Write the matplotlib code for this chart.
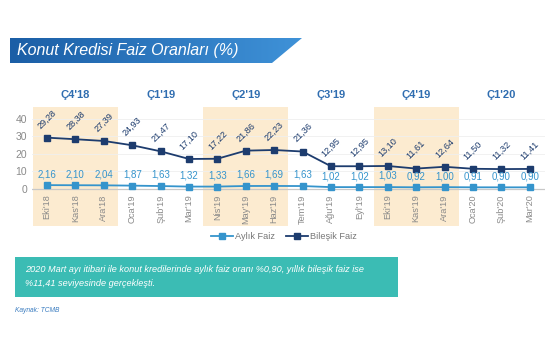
import matplotlib
matplotlib.use("Agg")
import matplotlib.pyplot as plt
import numpy as np
from matplotlib.colors import LinearSegmentedColormap
from matplotlib.patches import Polygon, Rectangle

plt.rcParams["font.family"] = ["Liberation Sans", "DejaVu Sans"]

# data
months = ["Eki'18", "Kas'18", "Ara'18", "Oca'19", "Şub'19", "Mar'19",
          "Nis'19", "May'19", "Haz'19", "Tem'19", "Ağu'19", "Eyl'19",
          "Eki'19", "Kas'19", "Ara'19", "Oca'20", "Şub'20", "Mar'20"]
aylik = [2.16, 2.10, 2.04, 1.87, 1.63, 1.32, 1.33, 1.66, 1.69, 1.63,
         1.02, 1.02, 1.03, 0.92, 1.00, 0.91, 0.90, 0.90]
bilesik = [29.28, 28.38, 27.39, 24.93, 21.47, 17.10, 17.22, 21.86, 22.23, 21.36,
           12.95, 12.95, 13.10, 11.61, 12.64, 11.50, 11.32, 11.41]
quarters = ["Ç4'18", "Ç1'19", "Ç2'19", "Ç3'19", "Ç4'19", "Ç1'20"]
shaded_quarters = [0, 2, 4]

c_aylik = "#3594cc"
c_bilesik = "#1d3c6e"
c_band = "#fcebd0"
c_tick = "#8a8a8a"

W, H = 555, 355
fig = plt.figure(figsize=(W / 100, H / 100), dpi=100)

# background layer in pixel coordinates for banner / note box
bg = fig.add_axes([0, 0, 1, 1], zorder=-1)
bg.set_xlim(0, W)
bg.set_ylim(H, 0)
bg.axis("off")

banner = Polygon([[10, 38], [302, 38], [272, 63], [10, 63]], closed=True,
                 facecolor="none", edgecolor="none")
bg.add_patch(banner)
cmap = LinearSegmentedColormap.from_list("ban", ["#1b5ea6", "#3f92d8"])
im = bg.imshow(np.linspace(0, 1, 256).reshape(1, -1), cmap=cmap,
               extent=[10, 302, 63, 38], aspect="auto")
im.set_clip_path(banner)
bg.text(17, 51, "Konut Kredisi Faiz Oranları (%)", color="white",
        fontsize=11.5, style="italic", va="center", ha="left")

bg.add_patch(Rectangle((15, 257), 383, 40, facecolor="#3bbcb4", edgecolor="none"))
bg.text(25, 270, "2020 Mart ayı itibari ile konut kredilerinde aylık faiz oranı %0,90, yıllık bileşik faiz ise",
        color="white", fontsize=6.6, style="italic", va="center", ha="left")
bg.text(25, 284, "%11,41 seviyesinde gerçekleşti.",
        color="white", fontsize=6.6, style="italic", va="center", ha="left")
bg.text(15, 311, "Kaynak: TCMB", color="#3a7cc0", fontsize=4.8,
        style="italic", va="center", ha="left")

# main chart
ax = fig.add_axes([32 / W, (H - 226) / H, (545 - 32) / W, (226 - 107) / H])
x = np.arange(len(months))
ax.set_xlim(-0.53, len(months) - 0.46)
ax.set_ylim(-21.2, 46.8)

for q in shaded_quarters:
    ax.axvspan(3 * q - 0.5, 3 * q + 2.5, color=c_band, lw=0, zorder=0)

for v in [10, 20, 30, 40]:
    ax.axhline(v, color="#efefef", lw=0.6, zorder=1)
ax.axhline(0, color="#c8c8c8", lw=0.9, zorder=1)

for s in ax.spines.values():
    s.set_visible(False)
ax.set_xticks([])
ax.set_yticks([0, 10, 20, 30, 40])
ax.tick_params(axis="y", length=0, labelsize=7.5, labelcolor=c_tick, pad=3.5)

ax.plot(x, aylik, color=c_aylik, lw=1.3, marker="s", ms=4,
        label="Aylık Faiz", zorder=3)
ax.plot(x, bilesik, color=c_bilesik, lw=1.3, marker="s", ms=4,
        label="Bileşik Faiz", zorder=3)

for xi, v in zip(x, aylik):
    ax.annotate(f"{v:.2f}".replace(".", ","), (xi, v), xytext=(0, 8),
                textcoords="offset points", ha="center", va="center",
                fontsize=7, color=c_aylik, zorder=4)
for xi, v in zip(x, bilesik):
    ax.annotate(f"{v:.2f}".replace(".", ","), (xi, v), xytext=(0, 13.5),
                textcoords="offset points", ha="center", va="center",
                rotation=45, fontsize=6.6, color=c_bilesik, zorder=4)

for xi, m in zip(x, months):
    ax.annotate(m, (xi, 0), xytext=(0, -4), textcoords="offset points",
                rotation=90, ha="center", va="top", fontsize=6.6, color=c_tick)

for i, q in enumerate(quarters):
    ax.text(3 * i + 1, 53.5, q, ha="center", va="center", fontsize=8,
            color="#2f6db0", fontweight="bold", clip_on=False)

ax.legend(loc="center", bbox_to_anchor=(0.491, -0.092), ncol=2,
          frameon=False, fontsize=6.6, labelcolor="#777777",
          handlelength=2.4, columnspacing=1.3, handletextpad=0.2)

fig.savefig("out.png", dpi=100)
